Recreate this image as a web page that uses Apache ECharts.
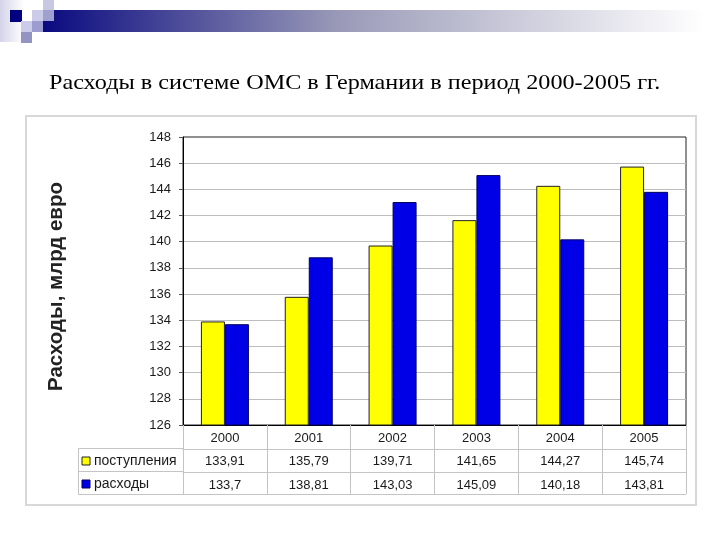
<!DOCTYPE html>
<html lang="ru">
<head>
    <meta charset="UTF-8">
    <title>Расходы в системе ОМС</title>
    <style>
        html,body{margin:0;padding:0;background:#fff}
        #main{width:720px;height:540px}
    </style>
    <script src="https://cdn.jsdelivr.net/npm/echarts@6/dist/echarts.min.js"></script>
</head>
<body>
<div id="main"></div>
<script>
    var years = ['2000','2001','2002','2003','2004','2005'];
    var income = [133.91,135.79,139.71,141.65,144.27,145.74];
    var expense = [133.7,138.81,143.03,145.09,140.18,143.81];
    var incomeName = 'поступления';
    var expenseName = 'расходы';
    var titleText = 'Расходы в системе ОМС в Германии в период 2000-2005 гг.';
    var yName = 'Расходы, млрд евро';

    var sans = '"Liberation Sans", Arial, sans-serif';
    var gridCol = '#bdbdbd';
    var tableCol = '#c4c4c4';
    var labelCol = '#1a1a1a';

    // запятая вместо точки в таблице
    function comma(v){ return String(v).replace('.', ','); }

    // строка таблицы под осью: отдельная ось со смещением
    function tableAxis(data, offset, tick, margin){
        return {
            type: 'category',
            position: 'bottom',
            offset: offset,
            data: data,
            axisLine: {show: true, onZero: false, lineStyle: {color: tableCol}},
            axisTick: {show: true, length: tick, inside: false, lineStyle: {color: tableCol}},
            axisLabel: {color: labelCol, fontFamily: sans, fontSize: 13, margin: margin, interval: 0}
        };
    }

    var myChart = echarts.init(document.getElementById('main'), null, {renderer: 'canvas'});
    var option = {
        animation: false,
        backgroundColor: '#fff',
        grid: {left: 183, right: 34, top: 137, bottom: 115, show: true, backgroundColor: 'transparent', borderColor: '#222', borderWidth: 1},
        xAxis: [
            {
                type: 'category',
                data: years,
                axisLine: {onZero: false, lineStyle: {color: '#000', width: 1}},
                axisTick: {show: true, length: 24, lineStyle: {color: tableCol}},
                axisLabel: {color: labelCol, fontFamily: sans, fontSize: 13, margin: 7, interval: 0},
                splitLine: {show: false}
            },
            tableAxis(income.map(comma), 24, 23, 6),
            tableAxis(expense.map(comma), 47, 22, 7)
        ],
        yAxis: {
            type: 'value',
            min: 126,
            max: 148,
            interval: 2,
            name: yName,
            nameLocation: 'middle',
            nameGap: 116,
            nameRotate: 90,
            nameTextStyle: {fontFamily: sans, fontSize: 20.5, fontWeight: 'bold', color: '#222', padding: [0, 11, 0, 0]},
            axisLine: {show: true, lineStyle: {color: '#000'}},
            axisTick: {show: true, length: 4, lineStyle: {color: '#555'}},
            axisLabel: {color: labelCol, fontFamily: sans, fontSize: 13, margin: 12},
            splitLine: {show: true, showMinLine: false, showMaxLine: false, lineStyle: {color: gridCol, width: 1}}
        },
        series: [
            {
                name: incomeName,
                type: 'bar',
                data: income,
                barWidth: 24,
                barGap: '0%',
                itemStyle: {color: '#ffff00', borderColor: '#222', borderWidth: 1}
            },
            {
                name: expenseName,
                type: 'bar',
                data: expense,
                barWidth: 24,
                barGap: '0%',
                itemStyle: {color: '#0000e6', borderColor: '#000060', borderWidth: 1}
            }
        ],
        graphic: [
            // шапка слайда
            {type: 'rect', z: 0, shape: {x: 0, y: 0, width: 24, height: 42}, style: {
                fill: new echarts.graphic.LinearGradient(0, 0, 1, 0, [
                    {offset: 0, color: '#d4d4ea'}, {offset: 1, color: '#ffffff'}
                ])
            }},
            {type: 'rect', z: 0, shape: {x: 43, y: 10, width: 660, height: 22}, style: {
                fill: new echarts.graphic.LinearGradient(0, 0, 1, 0, [
                    {offset: 0, color: '#0a0a80'}, {offset: 0.45, color: '#9a9ab8'}, {offset: 1, color: '#ffffff'}
                ])
            }},
            {type: 'rect', z: 1, shape: {x: 10, y: 10, width: 12, height: 12}, style: {fill: '#000080'}},
            {type: 'rect', z: 1, shape: {x: 43, y: 0, width: 11, height: 10}, style: {fill: '#c8c8e2'}},
            {type: 'rect', z: 1, shape: {x: 32, y: 10, width: 11, height: 11}, style: {fill: '#ccccea'}},
            {type: 'rect', z: 1, shape: {x: 43, y: 10, width: 11, height: 11}, style: {fill: '#a0a0d0'}},
            {type: 'rect', z: 1, shape: {x: 21, y: 21, width: 11, height: 11}, style: {fill: '#ccccea'}},
            {type: 'rect', z: 1, shape: {x: 32, y: 21, width: 11, height: 11}, style: {fill: '#9c9cd0'}},
            {type: 'rect', z: 1, shape: {x: 21, y: 32, width: 11, height: 11}, style: {fill: '#9494c4'}},
            // заголовок слегка растянут по ширине, как на слайде
            {type: 'text', z: 1, x: 49, y: 83, scaleX: 1.1, style: {
                text: titleText, fontFamily: '"Liberation Serif", "Times New Roman", serif', fontSize: 22, fill: '#000', textVerticalAlign: 'middle'
            }},
            // рамка диаграммы
            {type: 'rect', z: -1, shape: {x: 26, y: 116, width: 670, height: 389}, style: {fill: '#fff', stroke: '#d8d8d8', lineWidth: 2}},
            // левая колонка таблицы с легендой
            {type: 'polyline', z: 5, shape: {points: [[183, 448.5], [78.5, 448.5], [78.5, 494.5], [686, 494.5]]}, style: {fill: null, stroke: tableCol, lineWidth: 1}},
            {type: 'line', z: 5, shape: {x1: 78, y1: 471.5, x2: 183, y2: 471.5}, style: {stroke: tableCol, lineWidth: 1}},
            {type: 'rect', z: 5, shape: {x: 82, y: 457, width: 8, height: 8}, style: {fill: '#ffff00', stroke: '#222', lineWidth: 1}},
            {type: 'rect', z: 5, shape: {x: 82, y: 480, width: 8, height: 8}, style: {fill: '#0000e6', stroke: '#000060', lineWidth: 1}},
            {type: 'text', z: 5, x: 94, y: 461, style: {text: incomeName, fontFamily: sans, fontSize: 14, fill: labelCol, textVerticalAlign: 'middle'}},
            {type: 'text', z: 5, x: 94, y: 484, style: {text: expenseName, fontFamily: sans, fontSize: 14, fill: labelCol, textVerticalAlign: 'middle'}}
        ]
    };
    myChart.setOption(option);
</script>
</body>
</html>
